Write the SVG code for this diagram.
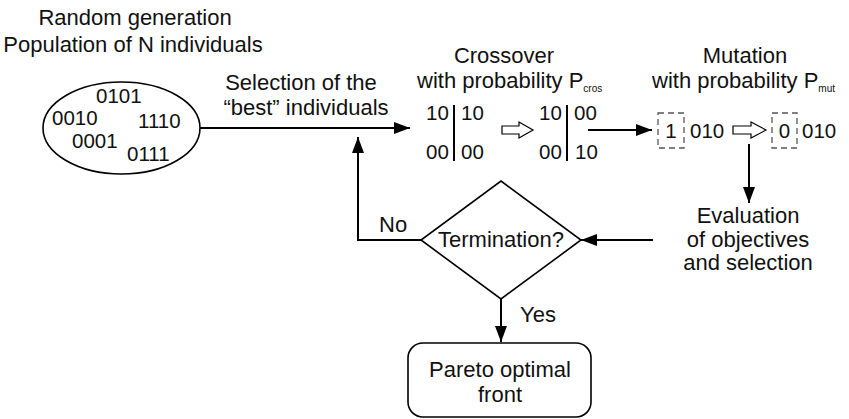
<svg xmlns="http://www.w3.org/2000/svg" width="849" height="419" viewBox="0 0 849 419">
<defs>
<marker id="ah" viewBox="0 0 16 12" refX="16" refY="6" markerWidth="16" markerHeight="12" markerUnits="userSpaceOnUse" orient="auto">
<path d="M0,0 L16,6 L0,12 Z" fill="#000"/>
</marker>
</defs>
<style>
text{font-family:"Liberation Sans",Arial,sans-serif;font-size:22px;fill:#111}
.d{font-size:20.5px}
.c{text-anchor:middle}
.sub{font-size:10px}
.ln{fill:none;stroke:#000;stroke-width:2}
.th{fill:none;stroke:#000;stroke-width:1.6}
.dash{fill:none;stroke:#555;stroke-width:1.3;stroke-dasharray:6,4}
.hol{fill:#fff;stroke:#000;stroke-width:1.2}
</style>
<rect width="849" height="419" fill="#fff"/>

<g id="population">
<text class="c" x="135" y="25">Random generation</text>
<text class="c" x="133" y="52">Population of N individuals</text>
<ellipse class="th" cx="121.5" cy="128" rx="78.5" ry="46"/>
<text class="d" x="96" y="103">0101</text>
<text class="d" x="52" y="125">0010</text>
<text class="d" x="138" y="128">1110</text>
<text class="d" x="72" y="148">0001</text>
<text class="d" x="127" y="161">0111</text>
</g>

<g id="selection-label">
<text class="c" x="301" y="90">Selection of the</text>
<text class="c" x="306" y="115">“best” individuals</text>
</g>

<g id="crossover">
<text class="c" x="504" y="63">Crossover</text>
<text x="417" y="88">with probability P<tspan class="sub" dy="4">cros</tspan></text>
<text class="d" x="426" y="120">10</text>
<text class="d" x="461" y="120">10</text>
<text class="d" x="426" y="159">00</text>
<text class="d" x="461" y="159">00</text>
<line class="ln" x1="454" y1="105" x2="454" y2="161"/>
<path class="hol" d="M502,126 L519,126 L519,122 L533,130 L519,138 L519,134 L502,134 Z"/>
<text class="d" x="539" y="120">10</text>
<text class="d" x="574" y="120">00</text>
<text class="d" x="539" y="159">00</text>
<text class="d" x="575" y="159">10</text>
<line class="ln" x1="567" y1="105" x2="567" y2="161"/>
</g>

<g id="mutation">
<text class="c" x="745" y="63">Mutation</text>
<text x="652" y="88">with probability P<tspan class="sub" dy="4">mut</tspan></text>
<rect class="dash" x="658" y="113" width="26" height="35"/>
<text class="c d" x="671" y="138">1</text>
<text class="d" x="690" y="138">010</text>
<path class="hol" d="M733,126 L751,126 L751,122 L766,130 L751,138 L751,134 L733,134 Z"/>
<rect class="dash" x="772" y="113" width="25" height="35"/>
<text class="c d" x="784.5" y="138">0</text>
<text class="d" x="802" y="138">010</text>
</g>

<g id="evaluation">
<text class="c" x="748" y="223">Evaluation</text>
<text class="c" x="748" y="247">of objectives</text>
<text class="c" x="748" y="270">and selection</text>
</g>

<g id="termination">
<path class="th" d="M501,181 L581,240 L501,299 L421,240 Z"/>
<text class="c" x="501" y="247">Termination?</text>
</g>

<g id="pareto">
<rect class="th" x="408" y="343" width="183" height="74" rx="15"/>
<text class="c" x="500" y="377">Pareto optimal</text>
<text class="c" x="500" y="402">front</text>
</g>

<g id="connectors">
<line class="ln" x1="200" y1="128" x2="410" y2="128" marker-end="url(#ah)"/>
<polyline class="ln" points="421,240 358,240 358,137" marker-end="url(#ah)"/>
<line class="ln" x1="588" y1="130" x2="652" y2="130" marker-end="url(#ah)"/>
<line class="ln" x1="749" y1="144" x2="749" y2="203" marker-end="url(#ah)"/>
<line class="ln" x1="653" y1="240" x2="581" y2="240" marker-end="url(#ah)"/>
<line class="ln" x1="501" y1="299" x2="501" y2="342" marker-end="url(#ah)"/>
<text x="379" y="232">No</text>
<text x="520" y="322">Yes</text>
</g>
</svg>
